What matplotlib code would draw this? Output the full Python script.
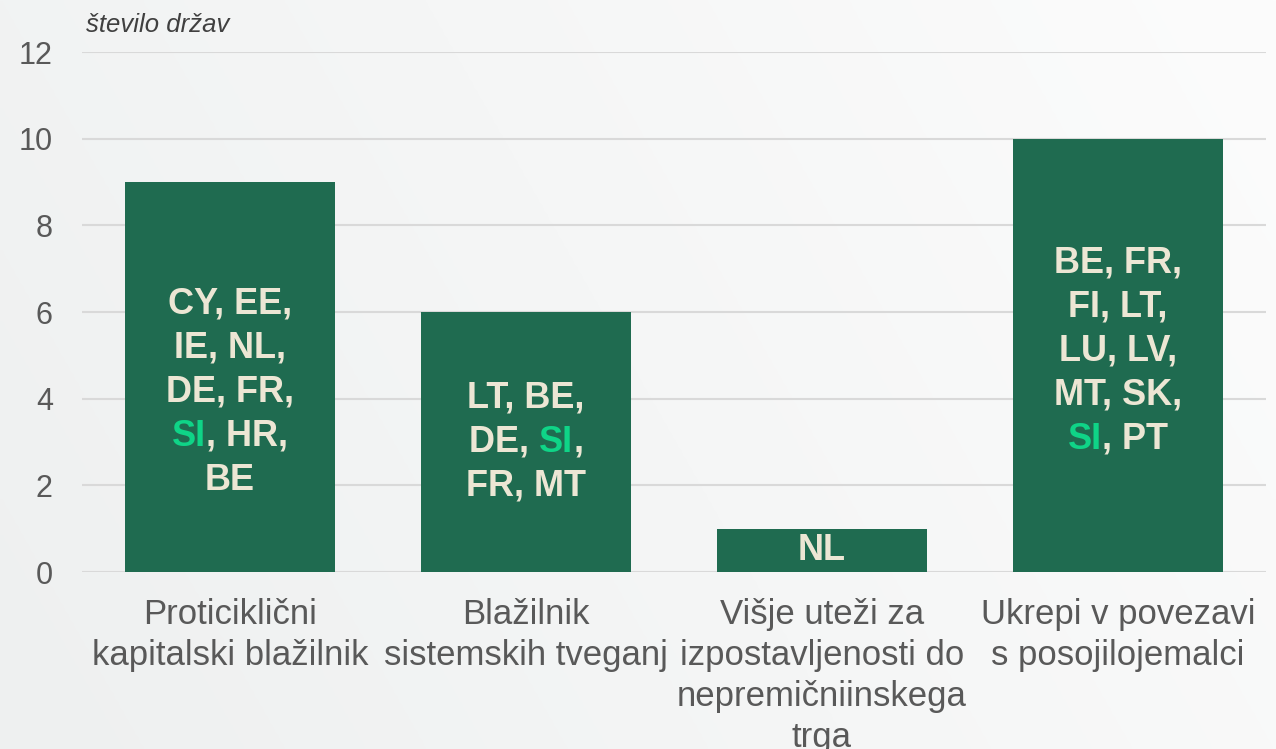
import re
import numpy as np
import matplotlib
matplotlib.use("Agg")
import matplotlib.pyplot as plt
from matplotlib.transforms import offset_copy

plt.rcParams['font.family'] = ['Liberation Sans', 'DejaVu Sans']

# data
categories = [
    "Proticiklični\nkapitalski blažilnik",
    "Blažilnik\nsistemskih tveganj",
    "Višje uteži za\nizpostavljenosti do\nnepremičniinskega\ntrga",
    "Ukrepi v povezavi\ns posojilojemalci",
]
counts = [9, 6, 1, 10]
countries = [
    ["CY, EE,", "IE, NL,", "DE, FR,", "SI, HR,", "BE"],
    ["LT, BE,", "DE, SI,", "FR, MT"],
    ["NL"],
    ["BE, FR,", "FI, LT,", "LU, LV,", "MT, SK,", "SI, PT"],
]
highlight = "SI"
yticks = [0, 2, 4, 6, 8, 10, 12]

# style
bar_color = '#1f6b50'
text_cream = '#ece6d4'
si_green = '#0fd487'
grid_color = '#d9d9d9'
tick_color = '#595959'
label_center_y = [4.15, 3.0, 0.5, 5.1]  # where each label block sits
line_step_px = 44

fig = plt.figure(figsize=(12.76, 7.49), dpi=100)

# soft gradient background
bg = fig.add_axes([0, 0, 1, 1], zorder=-10)
gx, gy = np.meshgrid(np.linspace(0, 1, 256), np.linspace(0, 1, 256))
t = np.clip(0.75 * gx + 0.25 * (1 - gy), 0, 1)
c0 = np.array([238, 240, 240]) / 255
c1 = np.array([252, 252, 252]) / 255
img = c0[None, None, :] * (1 - t[..., None]) + c1[None, None, :] * t[..., None]
bg.imshow(img, aspect='auto', extent=[0, 1, 0, 1], origin='upper')
bg.axis('off')

ax = fig.add_axes([82 / 1276, 1 - 572 / 749, (1266 - 82) / 1276, (572 - 52) / 749])
ax.patch.set_alpha(0)

x = np.arange(len(categories))
ax.bar(x, counts, width=0.71, color=bar_color, zorder=3)

ax.set_xlim(-0.5, len(categories) - 0.5)
ax.set_ylim(0, 12)
ax.set_yticks(yticks)
ax.set_yticklabels([str(v) for v in yticks])
ax.set_xticks(x)
ax.set_xticklabels(categories, linespacing=1.31)
ax.yaxis.grid(True, color=grid_color, linewidth=1.5, zorder=0)
ax.set_axisbelow(True)
for s in ax.spines.values():
    s.set_visible(False)
ax.tick_params(axis='y', length=0, pad=21, labelsize=22, labelcolor=tick_color)
ax.tick_params(axis='x', length=0, pad=18.5, labelsize=25, labelcolor=tick_color)

fig.text(86 / 1276, 1 - 25 / 749, "število držav", style='italic', fontsize=18.5,
         color='#404040', va='center', ha='left')

# country labels inside bars, with SI highlighted
fig.canvas.draw()
renderer = fig.canvas.get_renderer()
kw = dict(fontsize=26, fontweight='bold', va='center', ha='left', zorder=5)


def seg_width(s):
    a = ax.text(0, 0, 'x' + s + 'x', **kw)
    b = ax.text(0, 0, 'xx', **kw)
    w = a.get_window_extent(renderer).width - b.get_window_extent(renderer).width
    a.remove()
    b.remove()
    return w


for i, lines in enumerate(countries):
    n = len(lines)
    for j, line in enumerate(lines):
        dy = ((n - 1) / 2 - j) * line_step_px
        parts = [p for p in re.split('(' + highlight + ')', line) if p]
        widths = [seg_width(p) for p in parts]
        start = -sum(widths) / 2
        for p, w in zip(parts, widths):
            col = si_green if p == highlight else text_cream
            tr = offset_copy(ax.transData, fig=fig, x=start, y=dy, units='dots')
            ax.text(x[i], label_center_y[i], p, color=col, transform=tr, **kw)
            start += w

fig.savefig('out.png', dpi=100)
